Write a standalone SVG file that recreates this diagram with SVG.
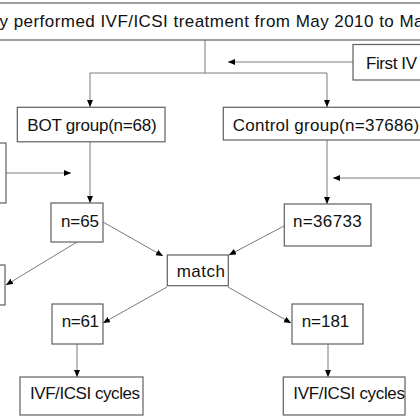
<svg xmlns="http://www.w3.org/2000/svg" width="420" height="420" viewBox="0 0 420 420">
<style>
.box{fill:#fff;stroke:#5f5f5f;stroke-width:1.2}
.t{font-family:"Liberation Sans",Arial,sans-serif;font-size:17px;fill:#111}
.c{fill:none;stroke:#7a7a7a;stroke-width:1}
</style>
<defs>
<marker id="ah" markerUnits="userSpaceOnUse" markerWidth="8" markerHeight="7" refX="7" refY="3" orient="auto">
<path d="M0,0 L7,3 L0,6 z" fill="#000"/>
</marker>
</defs>
<rect width="420" height="420" fill="#fff"/>
<g id="connectors">
<path class="c" d="M205,40 V73"/>
<path class="c" d="M90,73 H327"/>
<path class="c" d="M90,73 V107" marker-end="url(#ah)"/>
<path class="c" d="M327,73 V107" marker-end="url(#ah)"/>
<path class="c" d="M353,62 H228" marker-end="url(#ah)"/>
<path class="c" d="M6,173 H71" marker-end="url(#ah)"/>
<path class="c" d="M90,142 V203" marker-end="url(#ah)"/>
<path class="c" d="M327,140 V204" marker-end="url(#ah)"/>
<path class="c" d="M420,178 H333" marker-end="url(#ah)"/>
<path class="c" d="M103,222 L163,256" marker-end="url(#ah)"/>
<path class="c" d="M284,226 L229,255" marker-end="url(#ah)"/>
<path class="c" d="M77,242 L6,285" marker-end="url(#ah)"/>
<path class="c" d="M167,287 L103,323" marker-end="url(#ah)"/>
<path class="c" d="M228,287 L291,323" marker-end="url(#ah)"/>
<path class="c" d="M77,344 V377" marker-end="url(#ah)"/>
<path class="c" d="M328,344 V377" marker-end="url(#ah)"/>
</g>
<g id="top"><rect class="box" x="-5" y="3" width="430" height="37"/>
<text class="t" x="-0.5" y="26.7" textLength="424">y performed IVF/ICSI treatment from May 2010 to Ma</text></g>
<g id="first"><rect class="box" x="353" y="44.5" width="100" height="35.5"/>
<text class="t" x="366" y="68.5" textLength="51">First IV</text></g>
<g id="leftupper"><rect class="box" x="-50" y="143" width="56" height="60"/></g>
<g id="bot"><rect class="box" x="17.3" y="107.3" width="147.7" height="34.5"/>
<text class="t" x="27.3" y="130.7" textLength="129.4">BOT group(n=68)</text></g>
<g id="control"><rect class="box" x="223.3" y="107.3" width="220" height="32.7"/>
<text class="t" x="232.7" y="130.7" textLength="186.5">Control group(n=37686)</text></g>
<g id="n65"><rect class="box" x="51" y="203" width="52" height="39"/>
<text class="t" x="61" y="226.7" textLength="38">n=65</text></g>
<g id="n36733"><rect class="box" x="284.3" y="204" width="86.7" height="42"/>
<text class="t" x="293" y="226.7" textLength="68.7">n=36733</text></g>
<g id="leftlower"><rect class="box" x="-50" y="265" width="55" height="40"/></g>
<g id="match"><rect class="box" x="167.3" y="255" width="61" height="30.7"/>
<text class="t" x="176.7" y="277.3" textLength="48.3">match</text></g>
<g id="n61"><rect class="box" x="52" y="304" width="51" height="40"/>
<text class="t" x="61.7" y="326.7" textLength="37.3">n=61</text></g>
<g id="n181"><rect class="box" x="292" y="304" width="71" height="40"/>
<text class="t" x="301.7" y="326.7" textLength="47.6">n=181</text></g>
<g id="ivf1"><rect class="box" x="20" y="377" width="123" height="38"/>
<text class="t" x="30" y="399.3" textLength="110">IVF/ICSI cycles</text></g>
<g id="ivf2"><rect class="box" x="283.3" y="377" width="121.7" height="38"/>
<text class="t" x="293.3" y="399.3" textLength="111.7">IVF/ICSI cycles</text></g>
</svg>
